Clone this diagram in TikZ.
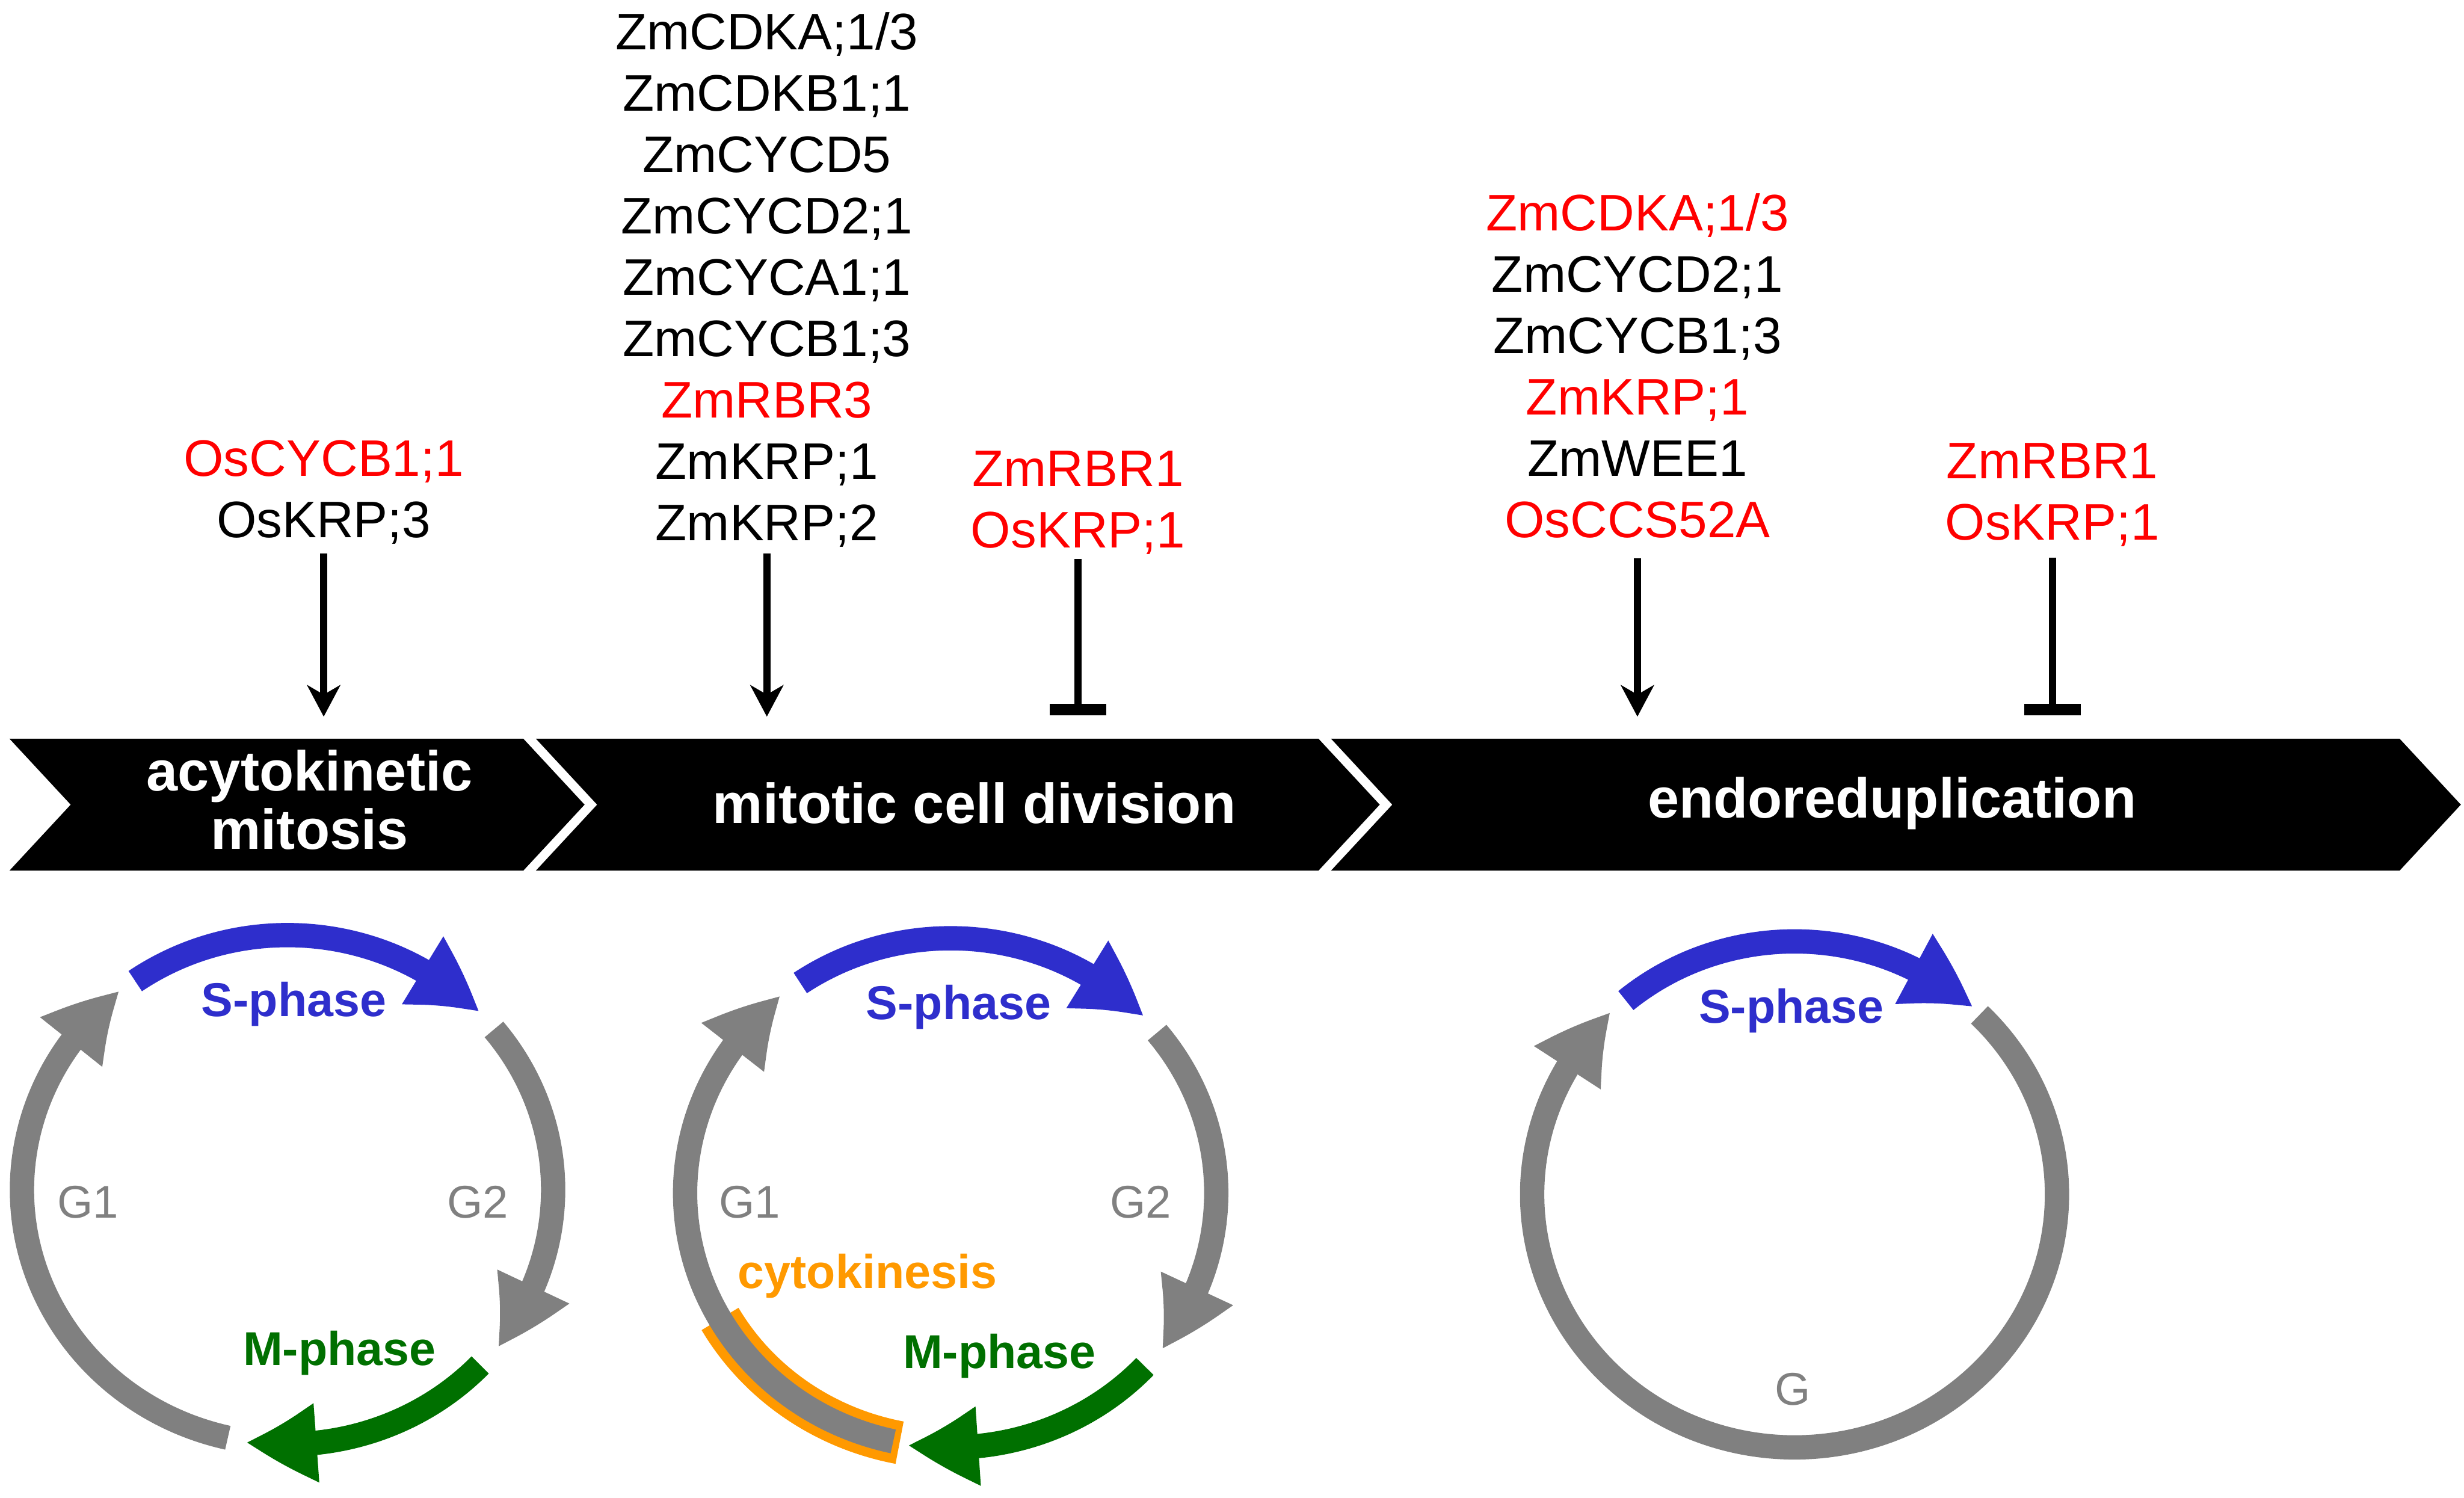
\documentclass[tikz,border=0pt]{standalone}
\usepackage{fontspec}
\setmainfont{Liberation Sans}
\usepackage{xcolor}
\definecolor{sblue}{HTML}{2E2ECC}
\definecolor{mgreen}{HTML}{007000}
\definecolor{cgray}{HTML}{808080}
\definecolor{ckorange}{HTML}{FF9900}
\definecolor{genered}{HTML}{FF0000}
\usepackage{tikz}
\usetikzlibrary{arrows.meta,bending}
\tikzset{
  gene/.style ={align=center, inner sep=0pt, outer sep=0pt, anchor=north,
                font=\fontsize{9.3}{11.1}\selectfont},
  stage/.style={text=white, align=center, inner sep=0pt,
                font=\fontsize{10.2}{10.5}\selectfont\bfseries},
  act/.style  ={-{Stealth[length=2mm, width=2.1mm, inset=0.6mm]}, line width=1.3pt},
  inh/.style  ={-{Bar[width=3.6mm, line width=0.25mm 1]}, line width=1.3pt},
  ring/.style ={line width=4.4pt, color=cgray},
  ringarr/.style={ring, -{Triangle[length=4.5mm, width=4.7mm, bend]}},
  sarc/.style ={ringarr, color=sblue},
  marc/.style ={ringarr, color=mgreen},
  plab/.style ={font=\fontsize{8.6}{9}\selectfont\bfseries, inner sep=0pt},
  glab/.style ={font=\fontsize{8.3}{9}\selectfont, text=cgray, inner sep=0pt},
}
\begin{document}
\begin{tikzpicture}[x=0.01cm, y=0.01cm]
  \useasboundingbox (0,0) rectangle (1568,-953);

  \fill (6,-470) -- (333,-470) -- (372,-512) -- (333,-554) -- (6,-554) -- (45,-512) -- cycle;
  \fill (341,-470) -- (839,-470) -- (878,-512) -- (839,-554) -- (341,-554) -- (380,-512) -- cycle;
  \fill (847,-470) -- (1527,-470) -- (1566,-512) -- (1527,-554) -- (847,-554) -- (886,-512) -- cycle;
  \node[stage] (acyt) at (197,-509) {acytokinetic\\mitosis};
  \node[stage] (mitdiv) at (620,-511) {mitotic cell division};
  \node[stage] (endo) at (1204,-511) {endoreduplication};

  \node[gene] (gacyt) at (206,-280) {\textcolor{genered}{OsCYCB1;1}\\OsKRP;3};
  \node[gene] (gmit) at (488,-8) {ZmCDKA;1/3\\ZmCDKB1;1\\ZmCYCD5\\ZmCYCD2;1\\ZmCYCA1;1\\ZmCYCB1;3\\\textcolor{genered}{ZmRBR3}\\ZmKRP;1\\ZmKRP;2};
  \node[gene, text=genered] (gmitinh) at (686,-287) {ZmRBR1\\OsKRP;1};
  \node[gene] (gendo) at (1042,-123) {\textcolor{genered}{ZmCDKA;1/3}\\ZmCYCD2;1\\ZmCYCB1;3\\\textcolor{genered}{ZmKRP;1}\\ZmWEE1\\\textcolor{genered}{OsCCS52A}};
  \node[gene, text=genered] (gendoinh) at (1306,-282) {ZmRBR1\\OsKRP;1};

  \coordinate (tacyt) at (206,-456);
  \coordinate (tmit) at (488,-456);
  \coordinate (tmitinh) at (686,-455);
  \coordinate (tendo) at (1042,-456);
  \coordinate (tendoinh) at (1306,-455);
  \draw[act, shorten <=1.7pt] (gacyt) -- (tacyt);
  \draw[act, shorten <=1.1pt] (gmit) -- (tmit);
  \draw[inh, shorten <=0.8pt] (gmitinh) -- (tmitinh);
  \draw[act, shorten <=3.7pt] (gendo) -- (tendo);
  \draw[inh, shorten <=2pt] (gendoinh) -- (tendoinh);

  \begin{scope}[shift={(183,-757)}]
    \draw[sarc] (125:169 and 162) arc[start angle=125, end angle=44, x radius=169, y radius=162];
    \draw[ringarr] (39:169 and 162) arc[start angle=39, end angle=-38, x radius=169, y radius=162];
    \draw[marc] (-43.5:169 and 162) arc[start angle=-43.5, end angle=-99, x radius=169, y radius=162];
    \draw[ringarr] (-103:169 and 162) arc[start angle=-103, end angle=-231, x radius=169, y radius=162];
    \node[plab, text=sblue] (sph1) at (4,118) {S-phase};
    \node[glab] (gone1) at (-127,-8) {G1};
    \node[glab] (gtwo1) at (121,-8) {G2};
    \node[plab, text=mgreen] (mph1) at (33,-104) {M-phase};
  \end{scope}

  \begin{scope}[shift={(605,-759)}]
    \draw[sarc] (124.5:169 and 162) arc[start angle=124.5, end angle=43.6, x radius=169, y radius=162];
    \draw[ringarr] (39:169 and 162) arc[start angle=39, end angle=-37.7, x radius=169, y radius=162];
    \draw[marc] (-43:169 and 162) arc[start angle=-43, end angle=-99.3, x radius=169, y radius=162];
    \draw[ckorange, line width=7.8pt] (-101.1:169 and 162) arc[start angle=-101.1, end angle=-150.3, x radius=169, y radius=162];
    \draw[ringarr] (-102.5:169 and 162) arc[start angle=-102.5, end angle=-230.4, x radius=169, y radius=162];
    \node[plab, text=sblue] (sph2) at (5,118) {S-phase};
    \node[glab] (gone2) at (-128,-6) {G1};
    \node[glab] (gtwo2) at (121,-6) {G2};
    \node[plab, text=ckorange] (cyto) at (-53,-53) {cytokinesis};
    \node[plab, text=mgreen] (mph2) at (31,-104) {M-phase};
  \end{scope}

  \begin{scope}[shift={(1142,-760)}]
    \draw[sarc] (130:167 and 161) arc[start angle=130, end angle=47.4, x radius=167, y radius=161];
    \draw[ringarr] (45.2:167 and 161) arc[start angle=45.2, end angle=-225.8, x radius=167, y radius=161];
    \node[plab, text=sblue] (sph3) at (-2,117) {S-phase};
    \node[glab] (gphase) at (-1,-124) {G};
  \end{scope}
\end{tikzpicture}
\end{document}
